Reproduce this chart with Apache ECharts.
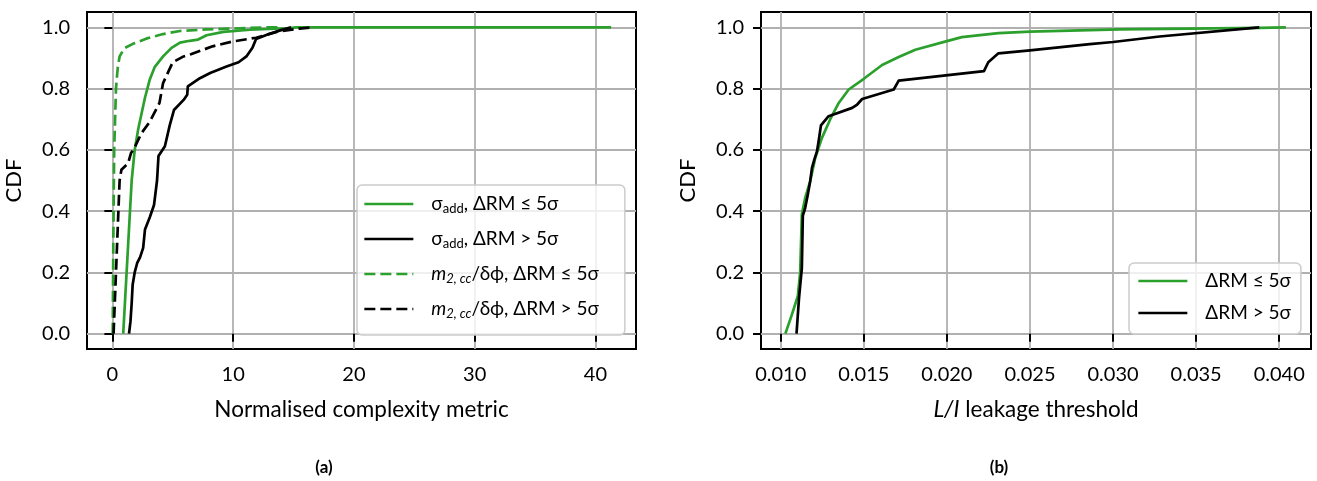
<!DOCTYPE html>
<html><head><meta charset="utf-8">
<script src="https://cdn.jsdelivr.net/npm/echarts@6/dist/echarts.min.js"></script>
<style>html,body{margin:0;padding:0;background:#fff}#c{width:1317px;height:481px}</style>
</head><body><div id="c"></div>
<script>
// ---------- tick labels ----------
const leftXTicks = [0, 10, 20, 30, 40];
const rightXTicks = [0.010, 0.015, 0.020, 0.025, 0.030, 0.035, 0.040];
const yTicks = [0.0, 0.2, 0.4, 0.6, 0.8, 1.0];

// ---------- names ----------
const leftNames = ['σadd, ΔRM ≤ 5σ', 'σadd, ΔRM > 5σ', 'm2,cc/δϕ, ΔRM ≤ 5σ', 'm2,cc/δϕ, ΔRM > 5σ'];
const rightNames = ['ΔRM ≤ 5σ', 'ΔRM > 5σ'];
const xNameLeft = 'Normalised complexity metric';
const xNameRight = '{it|L/I} leakage threshold';
const yName = 'CDF';
const captions = ['(a)', '(b)'];

// ---------- panel (a) data ----------
const sigmaLowX = [0.9, 1.25, 1.6, 1.85, 2.15, 2.7, 3.1, 3.5, 4.2, 4.9, 5.6, 6.4, 7.1, 7.8, 9.2, 11.4, 14.5, 15.2, 41.3];
const sigmaLowY = [0.0, 0.25, 0.5, 0.6, 0.67, 0.77, 0.83, 0.87, 0.905, 0.933, 0.95, 0.956, 0.96, 0.974, 0.985, 0.992, 0.997, 1.0, 1.0];

const sigmaHighX = [1.38, 1.5, 1.6, 1.68, 1.85, 2.05, 2.3, 2.55, 2.7, 3.1, 3.45, 3.7, 3.82, 4.35, 4.75, 5.1, 5.9, 6.2, 6.25, 7.25, 8.1, 9.45, 10.45, 11.1, 11.6, 11.9, 12.8, 13.9, 14.8];
const sigmaHighY = [0.0, 0.04, 0.1, 0.16, 0.2, 0.23, 0.25, 0.28, 0.34, 0.38, 0.42, 0.5, 0.58, 0.612, 0.68, 0.73, 0.763, 0.78, 0.807, 0.834, 0.851, 0.872, 0.886, 0.905, 0.933, 0.962, 0.976, 0.99, 1.0];

const mccLowX = [0.03, 0.08, 0.15, 0.3, 0.45, 0.6, 1.0, 1.7, 2.8, 4.2, 5.6, 7.8, 10.0, 12.7, 14.0];
const mccLowY = [0.0, 0.3, 0.6, 0.8, 0.87, 0.905, 0.932, 0.946, 0.963, 0.978, 0.988, 0.993, 0.996, 1.0, 1.0];

const mccHighX = [0.1, 0.2, 0.3, 0.4, 0.5, 0.6, 0.75, 1.3, 1.55, 1.75, 2.4, 3.1, 3.9, 4.2, 5.0, 5.9, 6.5, 8.3, 10.0, 11.9, 13.6, 15.5, 16.6];
const mccHighY = [0.0, 0.1, 0.2, 0.3, 0.4, 0.5, 0.535, 0.556, 0.59, 0.6, 0.654, 0.692, 0.753, 0.818, 0.886, 0.905, 0.912, 0.938, 0.954, 0.966, 0.985, 0.996, 1.0];

// ---------- panel (b) data ----------
const leakLowX = [0.01028, 0.01067, 0.01103, 0.01117, 0.01127, 0.01147, 0.01177, 0.01208, 0.01248, 0.01298, 0.01349, 0.01409, 0.0150, 0.0161, 0.0171, 0.0181, 0.0200, 0.0209, 0.0231, 0.0250, 0.0286, 0.0304, 0.0388, 0.0404];
const leakLowY = [0.0, 0.062, 0.123, 0.2, 0.39, 0.443, 0.497, 0.574, 0.639, 0.7, 0.753, 0.797, 0.832, 0.877, 0.903, 0.927, 0.955, 0.968, 0.981, 0.986, 0.991, 0.993, 0.998, 1.0];

const leakHighX = [0.01095, 0.0111, 0.01127, 0.01133, 0.01147, 0.01163, 0.01177, 0.01188, 0.01202, 0.01218, 0.01228, 0.01242, 0.01288, 0.0143, 0.0146, 0.0149, 0.0168, 0.0171, 0.02223, 0.02249, 0.0231, 0.0250, 0.0286, 0.0300, 0.0328, 0.0388];
const leakHighY = [0.0, 0.116, 0.214, 0.385, 0.41, 0.454, 0.497, 0.541, 0.568, 0.595, 0.628, 0.68, 0.71, 0.737, 0.748, 0.766, 0.797, 0.826, 0.857, 0.886, 0.915, 0.925, 0.945, 0.952, 0.97, 1.0];

// ---------- styling ----------
const F = 'Lato, "Noto Sans", sans-serif';
const GREEN = '#2ca02c';
const GRIDC = '#b0b0b0';
const LW = 2.7;
const DASH = [11, 5];
const pair = (xs, ys) => xs.map((x, i) => [x, ys[i]]);

const richStyles = {
  g: {fontFamily: F, fontSize: 19, lineHeight: 22, color: '#000', verticalAlign: 'middle'},
  sub: {fontFamily: F, fontSize: 13, lineHeight: 11, color: '#000', verticalAlign: 'bottom'},
  it: {fontFamily: F, fontSize: 19, fontStyle: 'italic', lineHeight: 22, color: '#000', verticalAlign: 'middle'},
  itsub: {fontFamily: F, fontSize: 13, fontStyle: 'italic', lineHeight: 11, color: '#000', verticalAlign: 'bottom'},
  sp: {width: 13, fontSize: 19, lineHeight: 22}
};
const richLabel = {};
richLabel[leftNames[0]] = '{sp| }{g|σ}{sub|add}{g|, ΔRM ≤ 5σ}';
richLabel[leftNames[1]] = '{sp| }{g|σ}{sub|add}{g|, ΔRM > 5σ}';
richLabel[leftNames[2]] = '{sp| }{it|m}{itsub|2, cc}{g|/δϕ, ΔRM ≤ 5σ}';
richLabel[leftNames[3]] = '{sp| }{it|m}{itsub|2, cc}{g|/δϕ, ΔRM > 5σ}';
richLabel[rightNames[0]] = '{sp| }{g|ΔRM ≤ 5σ}';
richLabel[rightNames[1]] = '{sp| }{g|ΔRM > 5σ}';

function xAxisCfg(gi, min, max, ticks, fmt, name) {
  return {
    type: 'value', gridIndex: gi, min: min, max: max,
    name: name, nameLocation: 'middle', nameGap: 49,
    nameTextStyle: {fontFamily: F, fontSize: 22.5, color: '#000',
      rich: {it: {fontFamily: F, fontSize: 22.5, fontStyle: 'italic', color: '#000'}}},
    axisLine: {show: false},
    axisTick: {show: true, inside: false, length: 8, customValues: ticks, lineStyle: {color: '#000', width: 2}},
    axisLabel: {customValues: ticks, formatter: fmt, margin: 16, fontFamily: F, fontSize: 20, color: '#000'},
    splitLine: {show: true, lineStyle: {color: GRIDC, width: 1.8}}
  };
}
function yAxisCfg(gi) {
  return {
    type: 'value', gridIndex: gi, min: -0.05, max: 1.05,
    name: yName, nameLocation: 'middle', nameGap: 62,
    nameTextStyle: {fontFamily: F, fontSize: 22, color: '#000'},
    axisLine: {show: false},
    axisTick: {show: true, inside: false, length: 8, customValues: yTicks, lineStyle: {color: '#000', width: 2}},
    axisLabel: {customValues: yTicks, formatter: v => v.toFixed(1), margin: 17, fontFamily: F, fontSize: 20, color: '#000'},
    splitLine: {show: true, lineStyle: {color: GRIDC, width: 1.8}}
  };
}
function lineSeries(name, xi, yi, data, color, dashed) {
  return {
    type: 'line', name: name, xAxisIndex: xi, yAxisIndex: yi, data: data,
    symbol: 'none', showSymbol: false, animation: false, z: 3,
    lineStyle: {color: color, width: LW, type: dashed ? DASH : 'solid', join: 'round'},
    itemStyle: {color: color}
  };
}
function legendCfg(names, left, top, gap, pad) {
  return {
    data: names, orient: 'vertical', left: left, top: top,
    itemWidth: 49, itemHeight: 14, itemGap: gap, padding: pad,
    backgroundColor: 'rgba(255,255,255,0.8)', borderColor: '#cccccc', borderWidth: 1.5, borderRadius: 5,
    selectedMode: false, z: 10,
    itemStyle: {opacity: 0, borderWidth: 0},
    lineStyle: {width: LW},
    formatter: n => richLabel[n],
    textStyle: {fontFamily: F, fontSize: 19, lineHeight: 22, color: '#000', rich: richStyles}
  };
}

const chart = echarts.init(document.getElementById('c'), null, {renderer: 'canvas'});
chart.setOption({
  backgroundColor: '#fff',
  animation: false,
  grid: [
    {left: 87, top: 12, width: 549, height: 337, show: true, borderColor: '#000', borderWidth: 2, backgroundColor: 'transparent'},
    {left: 761, top: 12, width: 550, height: 337, show: true, borderColor: '#000', borderWidth: 2, backgroundColor: 'transparent'}
  ],
  xAxis: [
    xAxisCfg(0, -2.10, 43.36, leftXTicks, v => String(Math.round(v)), xNameLeft),
    xAxisCfg(1, 0.008812, 0.041912, rightXTicks, v => v.toFixed(3), xNameRight)
  ],
  yAxis: [yAxisCfg(0), yAxisCfg(1)],
  legend: [
    legendCfg(leftNames, 357, 185, 13, [8, 26, 15, 6]),
    legendCfg(rightNames, 1129, 263, 10, [7, 10, 10, 8])
  ],
  series: [
    lineSeries(leftNames[0], 0, 0, pair(sigmaLowX, sigmaLowY), GREEN, false),
    lineSeries(leftNames[1], 0, 0, pair(sigmaHighX, sigmaHighY), '#000', false),
    lineSeries(leftNames[2], 0, 0, pair(mccLowX, mccLowY), GREEN, true),
    lineSeries(leftNames[3], 0, 0, pair(mccHighX, mccHighY), '#000', true),
    lineSeries(rightNames[0], 1, 1, pair(leakLowX, leakLowY), GREEN, false),
    lineSeries(rightNames[1], 1, 1, pair(leakHighX, leakHighY), '#000', false)
  ],
  graphic: [
    {type: 'text', x: 324, y: 468, style: {text: captions[0], font: 'bold 17px ' + F, fill: '#000', align: 'center', verticalAlign: 'middle', textAlign: 'center', textVerticalAlign: 'middle'}},
    {type: 'text', x: 999, y: 468, style: {text: captions[1], font: 'bold 17px ' + F, fill: '#000', align: 'center', verticalAlign: 'middle', textAlign: 'center', textVerticalAlign: 'middle'}}
  ]
});
</script></body></html>
